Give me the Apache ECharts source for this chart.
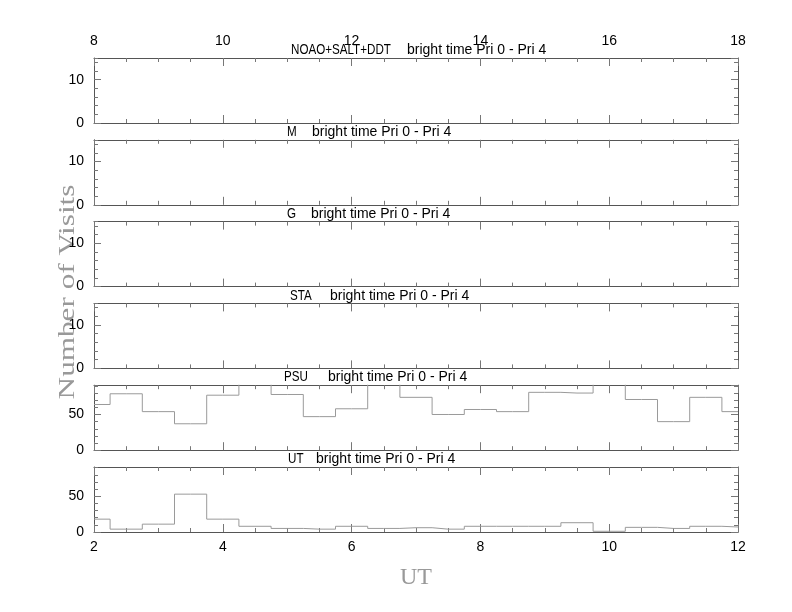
<!DOCTYPE html>
<html>
<head>
<meta charset="utf-8">
<script src="https://cdn.jsdelivr.net/npm/echarts@6/dist/echarts.min.js"></script>
<style>
html,body{margin:0;padding:0;background:#fff;}
#chart{width:792px;height:612px;}
</style>
</head>
<body>
<div id="chart"></div>
<script>
// ---- data ----
const panelNames = ['NOAO+SALT+DDT', 'M', 'G', 'STA', 'PSU', 'UT'];
const panelSubtitle = 'bright time Pri 0 - Pri 4';
const binCenters = [2.0, 2.5, 3.0, 3.5, 4.0, 4.5, 5.0, 5.5, 6.0, 6.5, 7.0, 7.5, 8.0, 8.5, 9.0, 9.5, 10.0, 10.5, 11.0, 11.5, 12.0];
const psuVisits = [64, 79, 54, 37, 77, 95, 78, 47, 58, 95, 74, 50, 57, 54, 81, 80, 95, 71, 40, 74, 54];
const utVisits  = [18, 4, 11, 53, 18, 8, 5, 4, 8, 5, 6, 4, 8, 8, 8, 13, 1, 6.5, 5, 8, 7];
const yMaxes = [15, 15, 15, 15, 91, 91];
const yMajor = [10, 10, 10, 10, 50, 50];
const yMinor = [2, 2, 2, 2, 10, 10];
const seriesByPanel = {4: psuVisits, 5: utVisits};

// ---- layout / style ----
const nameX = [291, 287, 287, 290, 284, 288];
const subX = [407, 312, 311, 330, 328, 316];
const gLeft = 94, gWidth = 644, gTop0 = 58, gStep = 81.8, gHeight = 65;
const frameColor = '#555';
const tickColor = '#777';
const lineColor = '#9a9a9a';
const sans = 'Liberation Sans, Arial, sans-serif';
const serif = 'Liberation Serif, Times New Roman, serif';

const grids = [], xAxes = [], yAxes = [], series = [], graphics = [];
for (let i = 0; i < 6; i++) {
  const top = gTop0 + i * gStep;
  grids.push({left: gLeft, top: top, width: gWidth, height: gHeight, containLabel: false});
  const xBase = (pos, min, max, showLabel) => ({
    gridIndex: i, type: 'value', position: pos, min: min, max: max, interval: 2,
    axisLine: {show: true, onZero: false, lineStyle: {color: frameColor, width: 1}},
    axisTick: {show: true, inside: true, length: 8, lineStyle: {color: tickColor}},
    minorTick: {show: true, splitNumber: 4, length: 4, lineStyle: {color: tickColor}},
    splitLine: {show: false}, minorSplitLine: {show: false},
    axisLabel: {show: showLabel, color: '#000', fontSize: 14, fontFamily: sans, margin: pos === 'top' ? 10 : 8}
  });
  xAxes.push(xBase('bottom', 2, 12, i === 5));
  xAxes.push(xBase('top', 8, 18, i === 0));
  const yBase = (pos, interval, len, showLine, showLabel) => ({
    gridIndex: i, type: 'value', position: pos, min: 0, max: yMaxes[i], interval: interval,
    axisLine: {show: showLine, onZero: false, lineStyle: {color: frameColor, width: 1}},
    axisTick: {show: true, inside: true, length: len, lineStyle: {color: tickColor}},
    splitLine: {show: false},
    axisLabel: {show: showLabel, showMaxLabel: false, color: '#000', fontSize: 14, fontFamily: sans, margin: 10}
  });
  yAxes.push(yBase('left', yMajor[i], 7, true, true));
  yAxes.push(yBase('left', yMinor[i], 4, false, false));
  yAxes.push(yBase('right', yMajor[i], 7, true, false));
  yAxes.push(yBase('right', yMinor[i], 4, false, false));

  if (seriesByPanel[i]) {
    series.push({
      type: 'line', step: 'middle', xAxisIndex: 2 * i, yAxisIndex: 4 * i,
      data: binCenters.map((x, k) => [x, seriesByPanel[i][k]]),
      symbol: 'none', clip: true, silent: true,
      lineStyle: {color: lineColor, width: 1}
    });
  }
  graphics.push({type: 'text', x: nameX[i], y: top - 7.6, scaleX: 0.83,
    style: {text: panelNames[i], font: '14px ' + sans, fill: '#000', align: 'left', verticalAlign: 'middle'}});
  graphics.push({type: 'text', x: subX[i], y: top - 7.6,
    style: {text: panelSubtitle, font: '14px ' + sans, fill: '#000', align: 'left', verticalAlign: 'middle'}});
}
graphics.push({type: 'text', x: 68, y: 292, rotation: Math.PI / 2, scaleX: 1.3,
  style: {text: 'Number of Visits', font: '24px ' + serif, fill: '#999', align: 'center', verticalAlign: 'middle'}});
graphics.push({type: 'text', x: 416, y: 578,
  style: {text: 'UT', font: '24px ' + serif, fill: '#999', align: 'center', verticalAlign: 'middle'}});

const chart = echarts.init(document.getElementById('chart'), null, {renderer: 'canvas'});
chart.setOption({
  animation: false,
  backgroundColor: '#fff',
  grid: grids,
  xAxis: xAxes,
  yAxis: yAxes,
  series: series,
  graphic: graphics
});
</script>
</body>
</html>
